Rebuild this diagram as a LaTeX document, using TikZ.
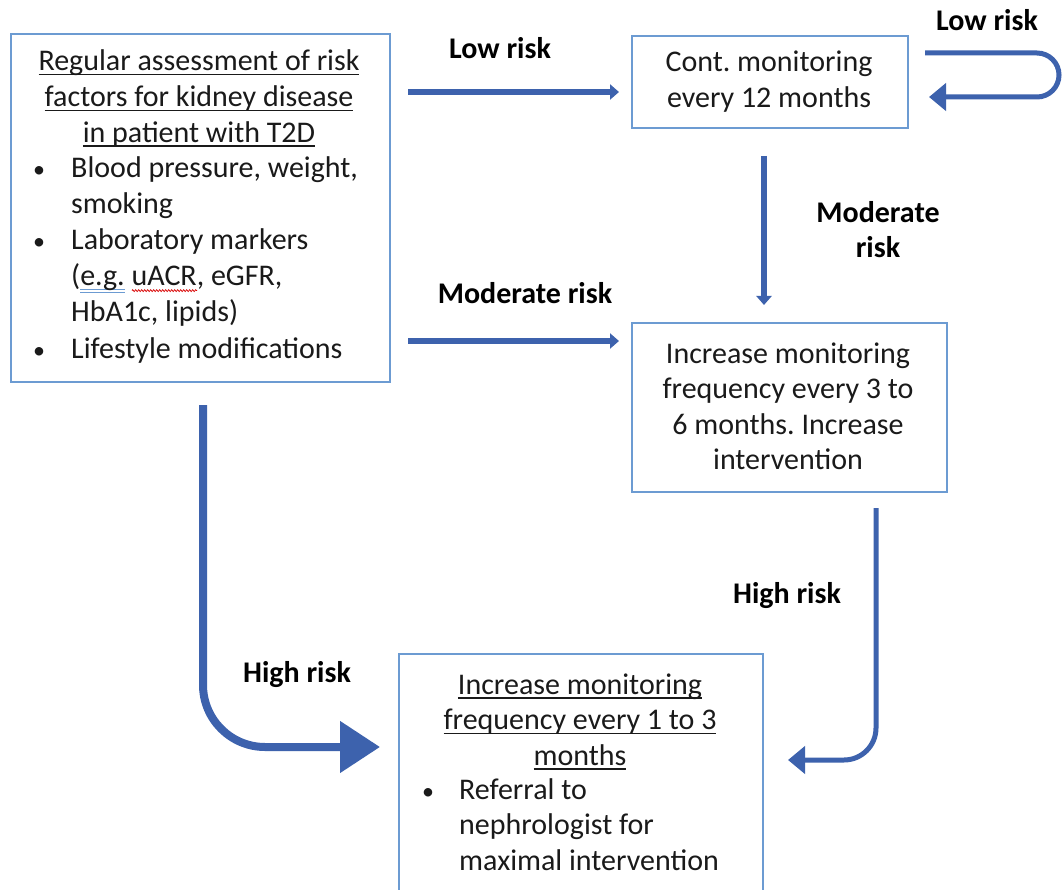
\documentclass[tikz,border=0pt]{standalone}
\usepackage{fontspec}
\setmainfont{Carlito}
\usetikzlibrary{arrows.meta,decorations.pathmorphing}
\frenchspacing
\definecolor{boxblue}{HTML}{6C9BD2}
\definecolor{arrblue}{HTML}{3D62AD}
\definecolor{txt}{HTML}{1A1A1A}
\newcommand\ulin[1]{\setbox0=\hbox{#1}\rlap{\rule[-4.5pt]{\wd0}{1.3pt}}\box0\relax}
\newcommand\clines[1]{\vtop{\baselineskip=35.6pt\halign{\hfil##\hfil\cr#1\crcr}}}
\newcommand\llines[1]{\vtop{\baselineskip=35.6pt\halign{##\hfil\cr#1\crcr}}}
\newcommand\gramul[1]{\setbox0=\hbox{#1}\rlap{\textcolor{boxblue}{\rule[-4.5pt]{\wd0}{0.9pt}}}\rlap{\textcolor{boxblue}{\rule[-7pt]{\wd0}{0.9pt}}}\box0\relax}
\newcommand\spellul[1]{\setbox0=\hbox{#1}\rlap{\tikz[baseline=0pt]\draw[red!85!black,line width=0.7pt,decorate,decoration={zigzag,amplitude=1pt,segment length=3pt}] (0pt,-5pt) -- (\wd0,-5pt);}\box0\relax}
\newcommand\bul{{\fontsize{24}{30}\selectfont •}}
\begin{document}
\begin{tikzpicture}[x=1pt,y=-1pt,
  box/.style={draw=boxblue,line width=2.2pt,rectangle,inner sep=0pt,anchor=north west},
  tx/.style={inner sep=0pt,text=txt,font=\fontsize{30}{35.6}\selectfont},
  lbl/.style={inner sep=0pt,text=black,font=\fontsize{30}{35.6}\selectfont\bfseries,anchor=base},
  thinarr/.style={draw=arrblue,line width=6pt,-{Triangle[width=15pt,length=9pt]}},
  midarr/.style={draw=arrblue,line width=5pt,-{Triangle[width=27pt,length=17pt]}},
  bigarr/.style={draw=arrblue,line width=8pt,-{Triangle[width=50pt,length=40pt]}}]
\useasboundingbox (0,0) rectangle (1062,890);
\fill[white] (0,0) rectangle (1062,890);

% boxes
\node[box,minimum width=379pt,minimum height=348pt] (A) at (10,33) {};
\node[box,minimum width=276pt,minimum height=92pt] (B) at (631,35) {};
\node[box,minimum width=315pt,minimum height=169pt] (C) at (631,322) {};
\node[box,minimum width=364pt,minimum height=250pt] (D) at (398,653) {};

% box A text
\node[tx,anchor=base] (Ah) at (199,71) {\clines{\ulin{Regular assessment of risk}\cr\ulin{factors for kidney disease}\cr\ulin{in patient with T2D}}};
\node[tx,anchor=base west] (Ab1) at (33,178) {\bul};
\node[tx,anchor=base west] (Ab2) at (33,250) {\bul};
\node[tx,anchor=base west] (Ab3) at (33,358) {\bul};
\node[tx,anchor=base west] (Ai1) at (71,178) {\llines{Blood pressure, weight,\cr smoking}};
\node[tx,anchor=base west] (Ai2) at (71,250) {\llines{Laboratory markers\cr (\gramul{e.g.} \spellul{uACR}, eGFR,\cr HbA1c, lipids)}};
\node[tx,anchor=base west] (Ai3) at (71,358) {Lifestyle modifications};

% box B text
\node[tx,anchor=base] (Bt) at (769,72) {\clines{Cont. monitoring\cr every 12 months}};
% box C text
\node[tx,anchor=base] (Ct) at (788,363) {\clines{Increase monitoring\cr frequency every 3 to\cr 6 months. Increase\cr intervention}};
% box D text
\node[tx,anchor=base] (Dh) at (580,694) {\clines{\ulin{Increase monitoring}\cr\ulin{frequency every 1 to 3}\cr\ulin{months}}};
\node[tx,anchor=base west] (Db) at (422,799) {\bul};
\node[tx,anchor=base west] (Di) at (459,799) {\llines{Referral to\cr nephrologist for\cr maximal intervention}};

% labels
\node[lbl] (L1) at (500,59) {Low risk};
\node[lbl] (L2) at (987,31) {Low risk};
\node[lbl] (L3) at (525,304) {Moderate risk};
\node[lbl] (L4) at (878,223) {Moderate};
\node[lbl] (L5) at (878,258) {risk};
\node[lbl] (L6) at (787,603) {High risk};
\node[lbl] (L7) at (297,682) {High risk};

% arrow end points
\coordinate (a1s) at (408,92);  \coordinate (a1e) at (619,92);
\coordinate (a2s) at (408,341); \coordinate (a2e) at (619,341);
\coordinate (a3s) at (764,156); \coordinate (a3e) at (764,305);
\coordinate (a4s) at (925,53);  \coordinate (a4r) at (1037,53); \coordinate (a4e) at (929,97);
\coordinate (a5s) at (203,405); \coordinate (a5e) at (380,747);
\coordinate (a6s) at (876,508); \coordinate (a6e) at (788,760);

\draw[thinarr] (a1s) -- (a1e);
\draw[thinarr] (a2s) -- (a2e);
\draw[thinarr] (a3s) -- (a3e);
\draw[midarr] (a4s) -- (a4r) arc[start angle=-90,end angle=90,radius=22] -- (a4e);
\draw[bigarr,rounded corners=62pt] (a5s) |- (a5e);
\draw[midarr,rounded corners=32pt] (a6s) |- (a6e);
\end{tikzpicture}
\end{document}
